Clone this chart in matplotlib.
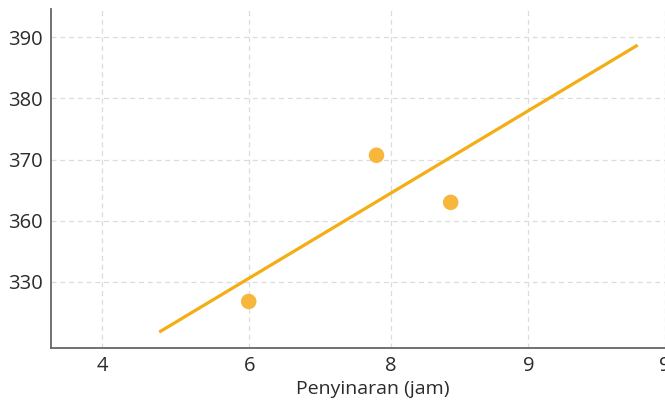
import matplotlib
matplotlib.use('Agg')
import matplotlib.pyplot as plt

# tick labels as printed on the chart (slots are not quite even in the source)
x_labels = ['4', '6', '8', '9', '9']
y_labels = ['330', '360', '370', '380', '390']
x_slots = [0, 1.045, 2.05, 3.03, 4]
y_slots = [0, 1, 2, 3, 4]

# points in slot units
pts_x = [1.042, 1.95, 2.477]
pts_y = [-0.32, 2.07, 1.30]

# trend line end points, slot units
line_x = [0.406, 3.806]
line_y = [-0.82, 3.87]

plt.rcParams['font.family'] = ['Open Sans', 'DejaVu Sans']

fig = plt.figure(figsize=(6.65, 4.01), dpi=100)
ax = fig.add_axes([51 / 665, 1 - 348 / 401, 1 - 51 / 665, (348 - 9) / 401])

ax.plot(line_x, line_y, color='#F2AE13', lw=2.3, solid_capstyle='butt', zorder=3)
ax.scatter(pts_x, pts_y, s=125, color='#F6B73C', edgecolors='none', zorder=4)

ax.set_xticks(x_slots)
ax.set_xticklabels(x_labels)
ax.set_yticks(y_slots)
ax.set_yticklabels(y_labels)
ax.set_xlim(-0.363, 4.0)
ax.set_ylim(-1.08, 4.46)

ax.grid(True, color='#dcdcdc', linestyle=(0, (4, 3)), lw=0.9)
ax.set_axisbelow(True)
ax.tick_params(length=0, labelsize=14.5, colors='#2b2b2b', pad=6)
ax.tick_params(axis='x', pad=6)

for side in ['top', 'right']:
    ax.spines[side].set_visible(False)
for side in ['left', 'bottom']:
    ax.spines[side].set_color('#666666')
    ax.spines[side].set_linewidth(1.3)

ax.set_xlabel('Penyinaran (jam)', fontsize=14, color='#2b2b2b')
ax.xaxis.set_label_coords((373 - 51) / 614, -0.095)

fig.savefig('out.png', dpi=100)
